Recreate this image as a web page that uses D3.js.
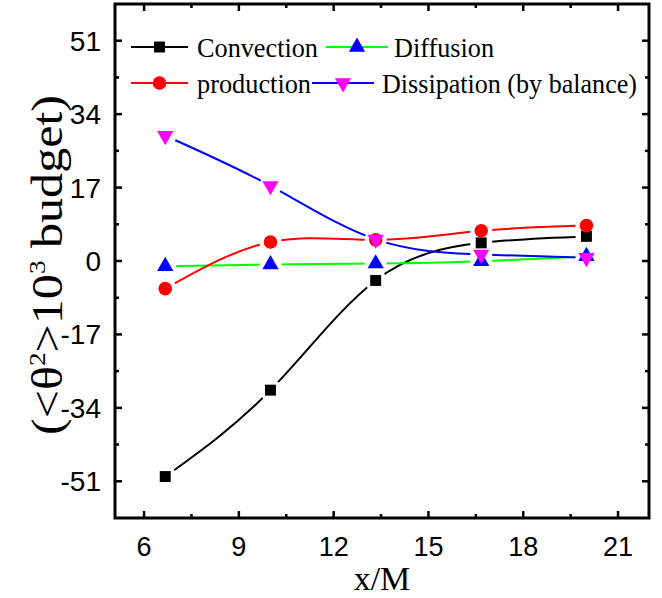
<!DOCTYPE html>
<html>
<head>
<meta charset="utf-8">
<script src="https://cdn.jsdelivr.net/npm/d3@7"></script>
<style>
  body { margin: 0; background: #fff; }
</style>
</head>
<body>
<script>
var width = 662,
    height = 598,
    margin = {top: 4, right: 13, bottom: 80, left: 115};

// x/M stations
var xValues = [6.67, 10, 13.33, 16.67, 20];

// budget terms
var convection = [-49.9, -29.9, -4.5, 4.2, 5.7];
var diffusion = [-1.2, -0.8, -0.6, -0.05, 1.1];
var production = [-6.4, 4.4, 4.9, 7.0, 8.2];
var dissipation = [29.0, 17.4, 5.0, 1.5, 0.75];

var xTicks = [6, 9, 12, 15, 18, 21];
var yTicks = [-51, -34, -17, 0, 17, 34, 51];

var series = [
  {name: "Convection", values: convection, line: "#000000", fill: "#000000", symbol: d3.symbolSquare, size: 120, rot: 0},
  {name: "Diffusion", values: diffusion, line: "#00ff00", fill: "#0000ff", symbol: d3.symbolTriangle, size: 115, rot: 0},
  {name: "production", values: production, line: "#ff0000", fill: "#ff0000", symbol: d3.symbolCircle, size: 145, rot: 0},
  {name: "Dissipation (by balance)", values: dissipation, line: "#0000ff", fill: "#ff00ff", symbol: d3.symbolTriangle, size: 115, rot: 180}
];

var x = d3.scaleLinear().domain([5.08, 21.98]).range([margin.left, width - margin.right]);
var y = d3.scaleLinear().domain([-59.5, 59.5]).range([height - margin.bottom, margin.top]);

var svg = d3.select("body").append("svg")
    .attr("width", width)
    .attr("height", height);

var defs = svg.append("defs");

// gaps in each line around its own markers
series.forEach(function(s, i) {
  var m = defs.append("mask").attr("id", "gap" + i).attr("maskUnits", "userSpaceOnUse")
      .attr("x", 0).attr("y", 0).attr("width", width).attr("height", height);
  m.append("rect").attr("width", width).attr("height", height).attr("fill", "#fff");
  m.selectAll("circle").data(s.values).enter().append("circle")
      .attr("cx", function(d, j) { return x(xValues[j]); })
      .attr("cy", function(d) { return y(d); })
      .attr("r", 11)
      .attr("fill", "#000");
});

var line = d3.line()
    .x(function(d, j) { return x(xValues[j]); })
    .y(function(d) { return y(d); })
    .curve(d3.curveNatural);

var plot = svg.append("g");

series.forEach(function(s, i) {
  plot.append("path")
      .attr("d", line(s.values))
      .attr("fill", "none")
      .attr("stroke", s.line)
      .attr("stroke-width", 2)
      .attr("mask", "url(#gap" + i + ")");
});

series.forEach(function(s) {
  plot.selectAll(null).data(s.values).enter().append("path")
      .attr("d", d3.symbol().type(s.symbol).size(s.size))
      .attr("transform", function(d, j) {
        return "translate(" + x(xValues[j]) + "," + y(d) + ") rotate(" + s.rot + ")";
      })
      .attr("fill", s.fill);
});

// frame and ticks (inward on all four sides)
var x0 = x.range()[0], x1 = x.range()[1], y0 = y.range()[0], y1 = y.range()[1];

var xMinor = d3.range(7.5, 21, 3);
var yMinor = d3.range(-59.5, 60, 17).filter(function(v) { return v > -59.4 && v < 59.4; });

var ticks = svg.append("g").attr("stroke", "#000").attr("stroke-width", 2.5);
xTicks.forEach(function(v) {
  ticks.append("line").attr("x1", x(v)).attr("x2", x(v)).attr("y1", y0).attr("y2", y0 - 7);
  ticks.append("line").attr("x1", x(v)).attr("x2", x(v)).attr("y1", y1).attr("y2", y1 + 7);
});
xMinor.forEach(function(v) {
  ticks.append("line").attr("x1", x(v)).attr("x2", x(v)).attr("y1", y0).attr("y2", y0 - 4);
  ticks.append("line").attr("x1", x(v)).attr("x2", x(v)).attr("y1", y1).attr("y2", y1 + 4);
});
yTicks.forEach(function(v) {
  ticks.append("line").attr("y1", y(v)).attr("y2", y(v)).attr("x1", x0).attr("x2", x0 + 7);
  ticks.append("line").attr("y1", y(v)).attr("y2", y(v)).attr("x1", x1).attr("x2", x1 - 7);
});
yMinor.forEach(function(v) {
  ticks.append("line").attr("y1", y(v)).attr("y2", y(v)).attr("x1", x0).attr("x2", x0 + 4);
  ticks.append("line").attr("y1", y(v)).attr("y2", y(v)).attr("x1", x1).attr("x2", x1 - 4);
});

svg.append("rect")
    .attr("x", x0).attr("y", y1)
    .attr("width", x1 - x0).attr("height", y0 - y1)
    .attr("fill", "none")
    .attr("stroke", "#000")
    .attr("stroke-width", 3);

// tick labels
svg.append("g").selectAll("text").data(xTicks).enter().append("text")
    .attr("x", function(d) { return x(d); })
    .attr("y", 556)
    .attr("text-anchor", "middle")
    .style("font-family", "'Liberation Sans', Arial, sans-serif")
    .style("font-size", "27px")
    .text(function(d) { return d; });

svg.append("g").selectAll("text").data(yTicks).enter().append("text")
    .attr("x", 101)
    .attr("y", function(d) { return y(d) + 10; })
    .attr("text-anchor", "end")
    .style("font-family", "'Liberation Sans', Arial, sans-serif")
    .style("font-size", "28px")
    .text(function(d) { return d; });

// axis titles
svg.append("text")
    .attr("x", (x0 + x1) / 2)
    .attr("y", 590)
    .attr("text-anchor", "middle")
    .style("font-family", "'Liberation Serif', 'Times New Roman', serif")
    .style("font-size", "34px")
    .text("x/M");

var yt = svg.append("text")
    .attr("transform", "translate(62,265) rotate(-90)")
    .attr("text-anchor", "middle")
    .attr("textLength", 340)
    .attr("lengthAdjust", "spacingAndGlyphs")
    .style("font-family", "'Liberation Serif', 'Times New Roman', serif")
    .style("font-size", "44px");
yt.append("tspan").text("(<\u03b8");
yt.append("tspan").attr("dy", -17).style("font-size", "24px").text("2");
yt.append("tspan").attr("dy", 17).text(">10");
yt.append("tspan").attr("dy", -17).style("font-size", "24px").text("3");
yt.append("tspan").attr("dy", 17).text(" budget)");

// legend
var legendPos = [
  {lx: 131, lw: 57, tx: 197, tw: 121, y: 47},
  {lx: 326, lw: 62, tx: 394, tw: 100, y: 47},
  {lx: 131, lw: 57, tx: 197, tw: 114, y: 83},
  {lx: 312, lw: 62, tx: 382, tw: 255, y: 83}
];

var legend = svg.append("g");
series.forEach(function(s, i) {
  var p = legendPos[i];
  legend.append("line")
      .attr("x1", p.lx).attr("x2", p.lx + p.lw)
      .attr("y1", p.y).attr("y2", p.y)
      .attr("stroke", s.line).attr("stroke-width", 2);
  legend.append("path")
      .attr("d", d3.symbol().type(s.symbol).size(s.size))
      .attr("transform", "translate(" + (p.lx + p.lw / 2) + "," + p.y + ") rotate(" + s.rot + ")")
      .attr("fill", s.fill);
  legend.append("text")
      .attr("x", p.tx)
      .attr("y", p.y + 10)
      .attr("textLength", p.tw)
      .attr("lengthAdjust", "spacingAndGlyphs")
      .style("font-family", "'Liberation Serif', 'Times New Roman', serif")
      .style("font-size", "28px")
      .text(s.name);
});
</script>
</body>
</html>
